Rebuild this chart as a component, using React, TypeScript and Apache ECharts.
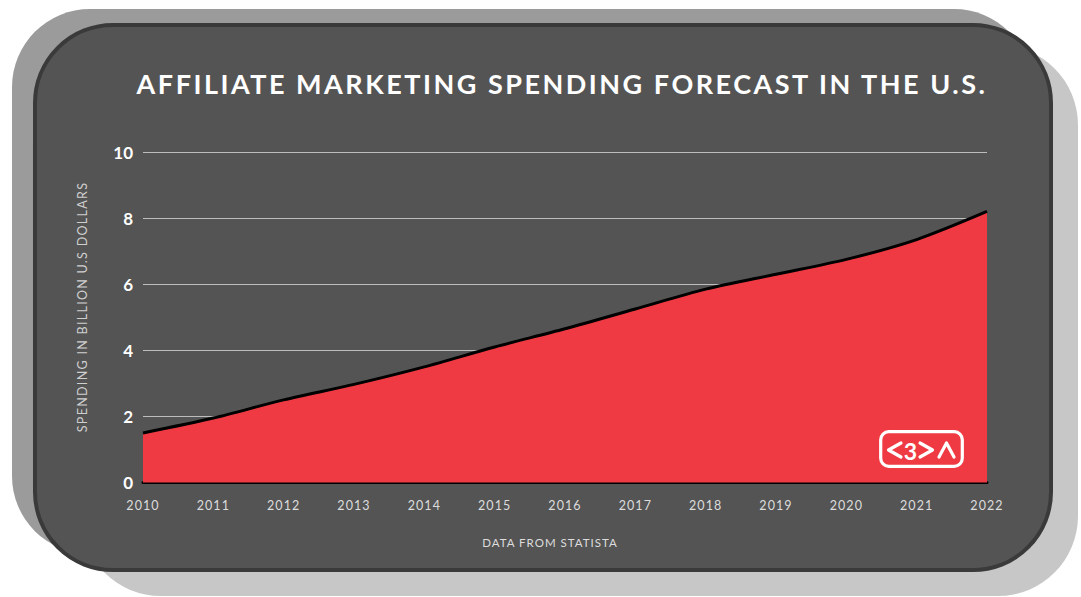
import React, { useEffect, useRef } from "react";
import * as echarts from "echarts";

// Yearly affiliate marketing spending in the U.S., billion dollars
const years = ["2010", "2011", "2012", "2013", "2014", "2015", "2016", "2017", "2018", "2019", "2020", "2021", "2022"];
const spending = [1.5, 1.95, 2.5, 2.97, 3.5, 4.1, 4.65, 5.25, 5.85, 6.3, 6.75, 7.35, 8.2];
const yMin = 0;
const yMax = 10;
const yStep = 2;

const titleText = "AFFILIATE MARKETING SPENDING FORECAST IN THE U.S.";
const yAxisTitle = "SPENDING IN BILLION U.S DOLLARS";
const sourceNote = "DATA FROM STATISTA";

const FONT = "Lato, 'Open Sans', sans-serif";
const RED = "#ef3a43";

// spaced-out lettering for the caption texts (applied to the rendered SVG)
const spacedTexts: Record<string, string> = {
  [titleText]: "2.5px",
  [yAxisTitle]: "1.3px",
  [sourceNote]: "1px",
};

export default function App() {
  const ref = useRef<HTMLDivElement>(null);

  useEffect(() => {
    document.body.style.margin = "0";
    const el = ref.current!;
    const chart = echarts.init(el, undefined, { renderer: "svg" });

    const logoStroke = { stroke: "#ffffff", lineWidth: 3.2, fill: "none", lineCap: "round", lineJoin: "round" };

    chart.setOption({
      animation: false,
      backgroundColor: "#ffffff",
      textStyle: { fontFamily: FONT },
      grid: { left: 143, right: 94, top: 152, bottom: 114.5, containLabel: false },
      xAxis: {
        type: "category",
        data: years,
        boundaryGap: false,
        axisLine: { show: true, lineStyle: { color: "#000000", width: 3 } },
        axisTick: { show: false },
        axisLabel: { color: "#dddddd", fontSize: 12.5, fontFamily: FONT, margin: 16 },
        splitLine: { show: false },
      },
      yAxis: {
        type: "value",
        min: yMin,
        max: yMax,
        interval: yStep,
        axisLine: { show: false },
        axisTick: { show: false },
        axisLabel: { color: "#ffffff", fontSize: 17, fontWeight: "bold", fontFamily: FONT, margin: 10 },
        splitLine: { show: true, lineStyle: { color: "#bdbdbd", width: 1.2 } },
      },
      series: [
        {
          type: "line",
          data: spending,
          smooth: 0.3,
          symbol: "none",
          lineStyle: { color: "#000000", width: 3 },
          areaStyle: { color: RED, opacity: 1 },
          z: 3,
        },
      ],
      graphic: [
        // layered card backdrop
        { type: "rect", z: -30, shape: { x: 12, y: 9, width: 1020, height: 545, r: 78 }, style: { fill: "#9b9b9b" } },
        { type: "rect", z: -29, shape: { x: 81, y: 45, width: 997, height: 551, r: 80 }, style: { fill: "#c7c7c7" } },
        {
          type: "rect",
          z: -28,
          shape: { x: 35, y: 25, width: 1016, height: 545, r: 78 },
          style: { fill: "#545454", stroke: "#3a3a3a", lineWidth: 4 },
        },
        {
          type: "text",
          z: 10,
          x: 562,
          y: 83,
          style: {
            text: titleText,
            fill: "#ffffff",
            font: `bold 27px ${FONT}`,
            textAlign: "center",
            textVerticalAlign: "middle",
          },
        },
        {
          type: "text",
          z: 10,
          x: 82,
          y: 307,
          rotation: Math.PI / 2,
          style: {
            text: yAxisTitle,
            fill: "#cfcfcf",
            font: `12.5px ${FONT}`,
            textAlign: "center",
            textVerticalAlign: "middle",
          },
        },
        {
          type: "text",
          z: 10,
          x: 550,
          y: 542,
          style: {
            text: sourceNote,
            fill: "#dddddd",
            font: `11.5px ${FONT}`,
            textAlign: "center",
            textVerticalAlign: "middle",
          },
        },
        // "<3>^" badge
        {
          type: "group",
          x: 879,
          y: 430,
          z: 50,
          children: [
            { type: "rect", z: 50, shape: { x: 1.7, y: 1.7, width: 81.6, height: 34.6, r: 8 }, style: { ...logoStroke } },
            { type: "polyline", z: 50, shape: { points: [[22, 13], [9.5, 20], [22, 27]] }, style: { ...logoStroke } },
            {
              type: "text",
              z: 50,
              x: 31.5,
              y: 20.5,
              style: {
                text: "3",
                fill: "#ffffff",
                fontSize: 23,
                fontWeight: "bold",
                fontFamily: FONT,
                textAlign: "center",
                textVerticalAlign: "middle",
              },
            },
            { type: "polyline", z: 50, shape: { points: [[41, 13], [53.5, 20], [41, 27]] }, style: { ...logoStroke } },
            { type: "polyline", z: 50, shape: { points: [[60, 27], [67.5, 13], [75, 27]] }, style: { ...logoStroke } },
          ],
        },
      ],
    });

    // letter spacing on captions and year labels
    el.querySelectorAll("text").forEach((t) => {
      const s = (t.textContent || "").trim();
      if (spacedTexts[s]) (t as SVGTextElement).style.letterSpacing = spacedTexts[s];
      else if (years.includes(s)) (t as SVGTextElement).style.letterSpacing = "1.1px";
    });

    return () => chart.dispose();
  }, []);

  return <div ref={ref} style={{ position: "absolute", left: 0, top: 0, width: 1081, height: 597 }} />;
}
